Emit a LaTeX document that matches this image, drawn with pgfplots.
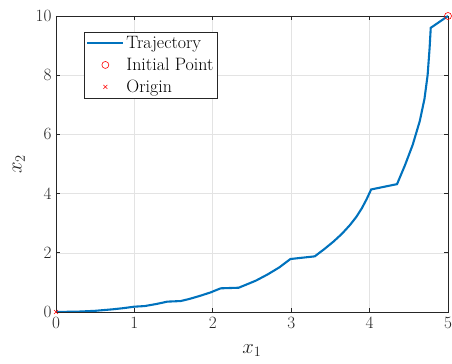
\documentclass[border=0pt]{standalone}
\usepackage{pgfplots}
\pgfplotsset{compat=1.18}
\definecolor{mblue}{rgb}{0,0.447,0.741}
\definecolor{axgray}{rgb}{0.15,0.15,0.15}
\pgfplotsset{
  markleg/.style={legend image code/.code={\draw[##1,mark repeat=2,mark phase=2] plot coordinates {(0bp,0bp) (18bp,0bp) (36bp,0bp)};}},
  lineleg/.style={legend image code/.code={\draw[##1] (0bp,0bp) -- (36bp,0bp);}},
}
\begin{document}
\begin{tikzpicture}
\begin{axis}[
  scale only axis,
  width=392bp, height=296bp,
  xmin=0, xmax=5, ymin=0, ymax=10,
  xtick={0,1,2,3,4,5}, ytick={0,2,4,6,8,10},
  tick align=inside, tick pos=both,
  major tick length=4bp,
  axis line style={axgray, line width=0.7pt},
  tick style={axgray, line width=0.7pt},
  grid=major,
  major grid style={gray!22, line width=0.6pt},
  ticklabel style={font=\fontsize{18}{20}\selectfont, text=axgray},
  xticklabel style={yshift=-2bp},
  yticklabel style={xshift=-1bp},
  xlabel={$x_1$}, ylabel={$x_2$},
  label style={font=\fontsize{20}{22}\selectfont, text=axgray},
  xlabel style={yshift=-9bp},
  ylabel style={yshift=4bp},
  legend style={at={(0.0714,0.946)}, anchor=north west, draw=axgray, line width=0.7pt,
    font=\fontsize{18}{21}\selectfont, row sep=4pt, inner sep=2pt},
  legend cell align=left,
]
\addplot[mblue, line width=2.1pt, lineleg] coordinates {
(0,0) (0.3,0.015) (0.5,0.04) (0.72,0.09) (0.86,0.13) (1.0,0.18) (1.13,0.2) (1.28,0.27) (1.42,0.35)
(1.59,0.37) (1.7,0.44) (1.83,0.54) (1.97,0.66) (2.10,0.80) (2.33,0.82) (2.45,0.95) (2.55,1.06)
(2.7,1.27) (2.85,1.51) (2.99,1.79) (3.30,1.88) (3.42,2.12) (3.54,2.38) (3.65,2.65) (3.75,2.94)
(3.83,3.21) (3.90,3.50) (3.96,3.80) (4.02,4.14) (4.35,4.32) (4.45,4.95) (4.55,5.65) (4.64,6.45)
(4.70,7.2) (4.74,8.0) (4.765,8.9) (4.78,9.6) (5,10)
};
\addlegendentry{Trajectory}
\addplot[red, only marks, mark=o, mark size=3.5bp, line width=0.6pt, markleg] coordinates {(5,10)};
\addlegendentry{Initial Point}
\addplot[red, only marks, mark=x, mark size=2.8bp, line width=0.6pt, markleg] coordinates {(0,0)};
\addlegendentry{Origin}
\end{axis}
\pgfresetboundingbox
\useasboundingbox (-56bp,-52bp) rectangle (396bp,312bp);
\end{tikzpicture}
\end{document}
